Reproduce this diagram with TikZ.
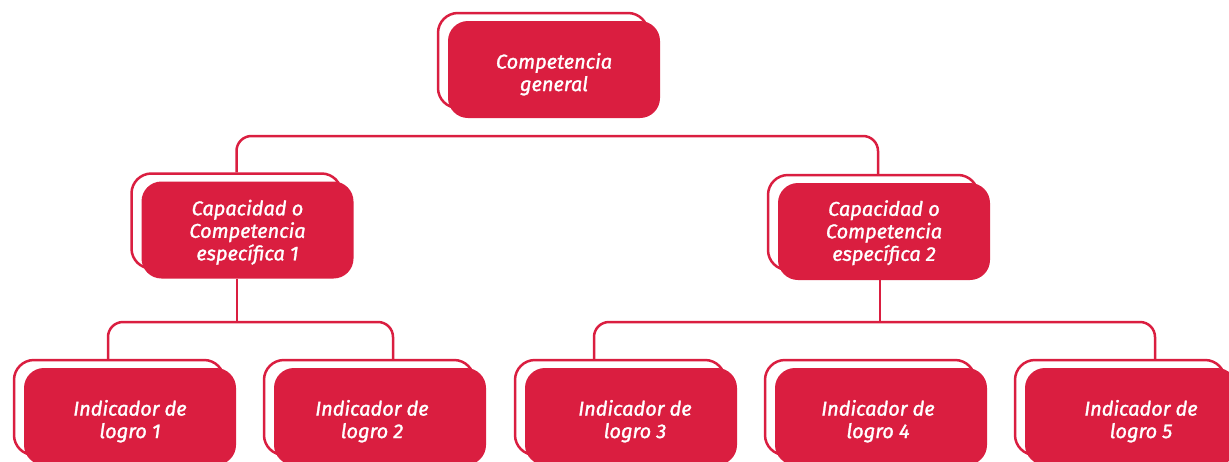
\documentclass[tikz,border=0pt]{standalone}
\usepackage{fontspec}
\setmainfont{Fira Sans}
\newfontfamily\boxfont[ItalicFeatures={FakeBold=1.5}]{Fira Sans}
\newcommand\dn{\rule{0pt}{25pt}}
\newcommand\dnc{\rule{0pt}{20pt}}
\definecolor{crim}{RGB}{218,30,64}
\begin{document}
\begin{tikzpicture}[x=1pt,y=-1pt,
  front/.style={fill=crim, draw=none, rounded corners=20pt, minimum width=212pt, minimum height=97pt,
    text=white, font=\boxfont\itshape\fontsize{20}{22.5}\selectfont, align=center, inner sep=0pt},
  back/.style={draw=crim, line width=2.5pt, fill=white, rounded corners=20pt, minimum width=210pt, minimum height=95pt, inner sep=0pt},
  conn/.style={draw=crim, line width=2.5pt, rounded corners=15pt}]
\useasboundingbox (0,0) rectangle (1229,461);
% connectors
\coordinate (j0) at (554,136);
\coordinate (j1) at (237,322);
\coordinate (j2) at (880,322);
% boxes
\node[back] (gb) at (543,60.5) {};
\node[front] (g) at (554,69.5) {\dn Competencia\\general};
\node[back] (c1b) at (236.5,221) {};
\node[front] (c1) at (247.5,230) {\dnc Capacidad o\\Competencia\\específica 1};
\node[back] (c2b) at (873,222.5) {};
\node[front] (c2) at (884,231.5) {\rule{0pt}{18pt}Capacidad o\\Competencia\\específica 2};
\node[back] (i1b) at (119,407.5) {};
\node[front] (i1) at (130,416.5) {\dn Indicador de\\logro 1};
\node[back] (i2b) at (369,407.5) {};
\node[front] (i2) at (380,416.5) {\dn Indicador de\hspace*{16pt}\\logro 2\hspace*{16pt}};
\node[back] (i3b) at (620,407.5) {};
\node[front] (i3) at (631,416.5) {\dn\hspace*{8pt}Indicador de\\\hspace*{8pt}logro 3};
\node[back] (i4b) at (870,407.5) {};
\node[front] (i4) at (881,416.5) {\dn Indicador de\hspace*{6pt}\\logro 4\hspace*{6pt}};
\node[back] (i5b) at (1120,407.5) {};
\node[front] (i5) at (1131,416.5) {\dn\hspace*{20pt}Indicador de\\\hspace*{20pt}logro 5};
% lines
\draw[conn] (c1b.north) |- (j0) -| ([xshift=5pt]c2b.north);
\draw[conn] ([xshift=-10.5pt]c1.south) -- (j1);
\draw[conn] ([xshift=-11pt]i1b.north) |- (j1) -| ([xshift=24pt]i2b.north);
\draw[conn] ([xshift=-4pt]c2.south) -- (j2);
\draw[conn] ([xshift=-26pt]i3b.north) |- (j2) -| ([xshift=35pt]i5b.north);
\end{tikzpicture}
\end{document}
